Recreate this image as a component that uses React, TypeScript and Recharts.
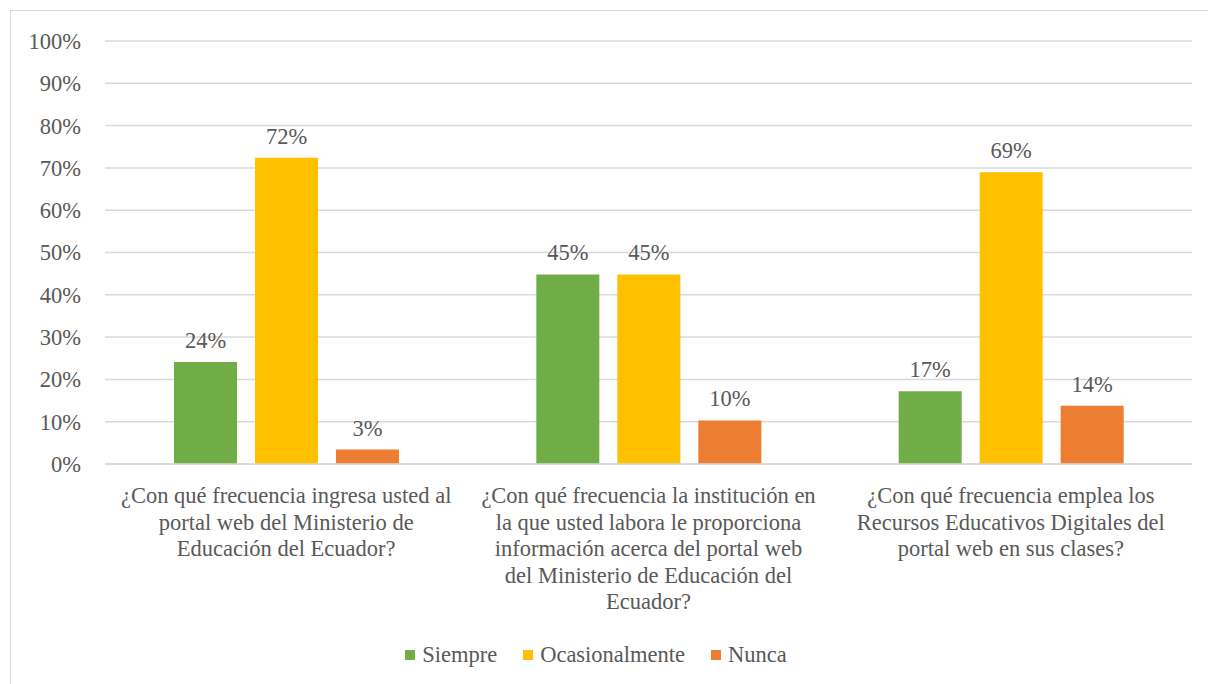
import React from 'react';
import { BarChart, Bar, XAxis, YAxis, CartesianGrid, Legend, LabelList } from 'recharts';

const categories = [
  '¿Con qué frecuencia ingresa usted al\nportal web del Ministerio de\nEducación del Ecuador?',
  '¿Con qué frecuencia la institución en\nla que usted labora le proporciona\ninformación acerca del portal web\ndel Ministerio de Educación del\nEcuador?',
  '¿Con qué frecuencia emplea los\nRecursos Educativos Digitales del\nportal web en sus clases?',
];
const siempre = [0.241, 0.448, 0.172];
const ocasionalmente = [0.724, 0.448, 0.69];
const nunca = [0.034, 0.103, 0.138];
const yTicks = [0, 0.1, 0.2, 0.3, 0.4, 0.5, 0.6, 0.7, 0.8, 0.9, 1];

const seriesList = [
  { key: 'siempre', name: 'Siempre', color: '#70AD47' },
  { key: 'ocasionalmente', name: 'Ocasionalmente', color: '#FFC000' },
  { key: 'nunca', name: 'Nunca', color: '#ED7D31' },
];

const data = categories.map((c, i) => ({
  category: c,
  siempre: siempre[i],
  ocasionalmente: ocasionalmente[i],
  nunca: nunca[i],
}));

const FONT = "'Liberation Serif', 'Times New Roman', Times, Tinos, 'Noto Serif', 'DejaVu Serif', serif";
const TEXT = '#595959';
const FS = 22.5;

const pct = (v: number) => `${Math.round(v * 100)}%`;

const CategoryTick = (props: any) => {
  const { x, y, payload } = props;
  const lines = String(payload.value).split('\n');
  return (
    <text x={x} y={y} textAnchor="middle" style={{ fill: TEXT, fontFamily: FONT, fontSize: FS }}>
      {lines.map((ln, i) => (
        <tspan key={i} x={x} dy={i === 0 ? 31 : 26.5}>{ln}</tspan>
      ))}
    </text>
  );
};

const renderLegend = () => (
  <div style={{ display: 'flex', justifyContent: 'center', fontFamily: FONT, fontSize: FS, color: TEXT, height: 24, alignItems: 'center' }}>
    {seriesList.map((s) => (
      <div key={s.key} style={{ display: 'flex', alignItems: 'center', margin: '0 13px' }}>
        <span style={{ width: 10, height: 10, background: s.color, display: 'inline-block', marginRight: 7 }} />
        <span>{s.name}</span>
      </div>
    ))}
  </div>
);

export default function App() {
  return (
    <div style={{ position: 'absolute', left: 0, top: 0, width: 1208, height: 684, background: '#fff', overflow: 'hidden' }}>
      <div style={{ position: 'absolute', left: 10, top: 10, width: 1210, height: 690, border: '1px solid #D9D9D9', boxSizing: 'border-box' }} />
      <div style={{ position: 'absolute', left: 0, top: 0 }}>
        <BarChart
          width={1208}
          height={684}
          data={data}
          margin={{ top: 41, right: 16, bottom: 17, left: 0 }}
          barCategoryGap="19%"
          barGap={18}
        >
          <CartesianGrid vertical={false} stroke="#D9D9D9" strokeWidth={1.5} />
          <XAxis
            dataKey="category"
            height={179}
            interval={0}
            axisLine={{ stroke: '#D9D9D9', strokeWidth: 1.5 }}
            tickLine={false}
            tick={<CategoryTick />}
          />
          <YAxis
            width={105}
            domain={[0, 1]}
            ticks={yTicks}
            tickFormatter={pct}
            axisLine={false}
            tickLine={false}
            tickSize={0}
            tickMargin={24}
            tick={{ fill: TEXT, fontFamily: FONT, fontSize: FS }}
          />
          <Legend verticalAlign="bottom" content={renderLegend} />
          {seriesList.map((s) => (
            <Bar key={s.key} dataKey={s.key} name={s.name} fill={s.color} barSize={63} isAnimationActive={false}>
              <LabelList
                dataKey={s.key}
                position="top"
                offset={14}
                formatter={(v: any) => pct(Number(v))}
                style={{ fill: TEXT, fontFamily: FONT, fontSize: FS }}
              />
            </Bar>
          ))}
        </BarChart>
      </div>
    </div>
  );
}
